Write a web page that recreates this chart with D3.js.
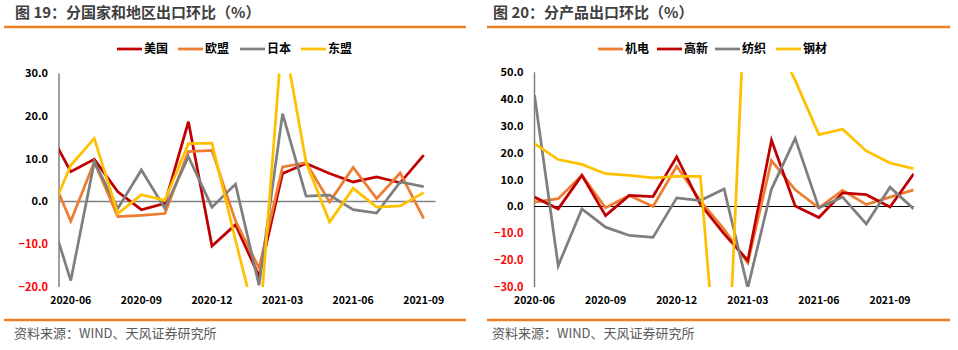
<!DOCTYPE html>
<html>
<head>
<meta charset="utf-8">
<script src="https://cdn.jsdelivr.net/npm/d3@7"></script>
<style>
  body { margin: 0; background: #fff; }
  text { font-family: "Noto Sans CJK SC", "Liberation Sans", sans-serif; }
</style>
</head>
<body>
<div id="chart"></div>
<script>
// ---- data: left panel (2020-05 .. 2021-09, first month only shows as clipped segment)
const monthsA = ["2020-05","2020-06","2020-07","2020-08","2020-09","2020-10","2020-11","2020-12",
                 "2021-01","2021-02","2021-03","2021-04","2021-05","2021-06","2021-07","2021-08","2021-09"];
const usa   = [17.2, 7.0, 9.9, 2.3, -1.9, -0.4, 18.7, -10.4, -5.4, -17.5, 6.6, 8.9, 6.6, 4.6, 5.8, 4.4, 10.9];
const eu    = [8.4, -4.6, 9.3, -3.5, -3.2, -2.8, 11.7, 12.0, -4.5, -15.6, 8.1, 9.1, -0.1, 8.0, 0.7, 6.7, -4.0];
const japan = [-0.9, -18.5, 9.3, -1.6, 7.4, -1.6, 10.5, -1.3, 4.1, -19.6, 20.6, 1.3, 1.5, -1.9, -2.7, 4.6, 3.5];
const asean = [-4.7, 8.5, 14.8, -2.8, 1.6, 0.3, 13.6, 13.7, -9.0, -31.0, 40.0, 9.2, -4.8, 3.1, -1.3, -1.0, 2.1];

// ---- data: right panel (2020-06 .. 2021-10)
const monthsB = ["2020-06","2020-07","2020-08","2020-09","2020-10","2020-11","2020-12","2021-01",
                 "2021-02","2021-03","2021-04","2021-05","2021-06","2021-07","2021-08","2021-09","2021-10"];
const electro = [1.6, 2.9, 11.6, -0.5, 4.1, 0.0, 15.0, 2.1, -8.5, -21.0, 17.1, 6.2, -0.5, 6.0, 0.7, 3.5, 6.2];
const hitech  = [3.5, -0.9, 11.6, -3.4, 4.1, 3.7, 18.5, 0.8, -10.2, -20.1, 24.7, 0.2, -4.1, 5.1, 4.4, -0.2, 12.2];
const textile = [41.5, -22.1, -0.9, -7.7, -10.8, -11.5, 3.2, 2.2, 6.5, -30.3, 6.5, 25.4, -0.5, 3.5, -6.5, 7.2, -0.9];
const steel   = [23.4, 17.5, 15.7, 12.2, 11.6, 10.7, 11.2, 11.2, -96.0, 102.0, 65.0, 47.0, 26.8, 28.8, 20.7, 16.2, 14.1];

const tickLabels = ["2020-06","2020-09","2020-12","2021-03","2021-06","2021-09"];
const ticksA = [-20, -10, 0, 10, 20, 30];
const ticksB = [-30, -20, -10, 0, 10, 20, 30, 40, 50];

const RED = "#C00000", ORANGE = "#ED7D31", GRAY = "#7F7F7F", YELLOW = "#FFC000";

const svg = d3.select("#chart").append("svg")
    .attr("width", 958)
    .attr("height", 350);

function drawPanel(cfg) {
  const g = svg.append("g");

  // title + orange rules + source note
  g.append("text")
    .attr("x", cfg.titleX).attr("y", 18)
    .attr("font-size", 15).attr("font-weight", "bold").attr("fill", "#404040")
    .text(cfg.title);
  g.append("line").attr("x1", cfg.ruleX0).attr("x2", cfg.ruleX1)
    .attr("y1", 27).attr("y2", 27).attr("stroke", "#EE7F22").attr("stroke-width", 2.5);
  g.append("line").attr("x1", cfg.ruleX0).attr("x2", cfg.ruleX1)
    .attr("y1", 320).attr("y2", 320).attr("stroke", "#EE7F22").attr("stroke-width", 2.5);
  g.append("text")
    .attr("x", cfg.titleX - 1).attr("y", 338)
    .attr("font-size", 13).attr("fill", "#595959")
    .text("资料来源：WIND、天风证券研究所");

  // scales
  const x = d3.scaleLinear().domain(cfg.xDomain).range(cfg.xRange);
  const y = d3.scaleLinear().domain(cfg.yDomain).range(cfg.yRange);

  const clipId = "clip-" + cfg.id;
  svg.append("clipPath").attr("id", clipId)
    .append("rect")
      .attr("x", cfg.xRange[0]).attr("y", cfg.yRange[1])
      .attr("width", cfg.xRange[1] - cfg.xRange[0])
      .attr("height", cfg.yRange[0] - cfg.yRange[1]);

  // y tick labels
  g.selectAll(".ylab")
    .data(cfg.yTicks)
    .join("text")
      .attr("x", cfg.xRange[0] - 11)
      .attr("y", d => y(d))
      .attr("dy", "0.35em")
      .attr("text-anchor", "end")
      .attr("font-family", "Liberation Sans, Arial, sans-serif")
      .attr("font-size", 11).attr("font-weight", "bold")
      .attr("fill", d => d < 0 ? "#FF0000" : "#000")
      .text(d => d3.format(".1f")(d));

  // x tick labels
  g.selectAll(".xlab")
    .data(tickLabels)
    .join("text")
      .attr("x", d => x(cfg.months.indexOf(d)))
      .attr("y", 304)
      .attr("text-anchor", "middle")
      .attr("font-family", "Liberation Sans, Arial, sans-serif")
      .attr("font-size", 10.5).attr("font-weight", "bold")
      .attr("fill", "#000")
      .text(d => d);

  // axes
  g.append("line")
    .attr("x1", cfg.xRange[0]).attr("x2", cfg.xRange[0])
    .attr("y1", cfg.yRange[1]).attr("y2", cfg.yRange[0])
    .attr("stroke", "#808080").attr("stroke-width", 1.5);
  g.append("line")
    .attr("x1", cfg.xRange[0]).attr("x2", cfg.xRange[1])
    .attr("y1", y(0)).attr("y2", y(0))
    .attr("stroke", cfg.zeroColor).attr("stroke-width", cfg.zeroWidth);

  // series lines (drawn in legend order, last on top)
  const line = d3.line()
    .x((d, i) => x(i))
    .y(d => y(d));
  g.append("g")
    .attr("clip-path", `url(#${clipId})`)
    .selectAll("path")
    .data(cfg.series)
    .join("path")
      .attr("d", d => line(d.values))
      .attr("fill", "none")
      .attr("stroke", d => d.color)
      .attr("stroke-width", 2.75)
      .attr("stroke-linejoin", "miter");

  // legend
  const leg = g.selectAll(".leg")
    .data(cfg.series)
    .join("g")
      .attr("transform", (d, i) => `translate(${cfg.legendX[i]},49)`);
  leg.append("line")
    .attr("x1", 0).attr("x2", 25)
    .attr("stroke", d => d.color).attr("stroke-width", 2.75);
  leg.append("text")
    .attr("x", 27).attr("dy", "0.35em")
    .attr("font-size", 12).attr("font-weight", "bold").attr("fill", "#000")
    .text(d => d.name);
}

drawPanel({
  id: "a",
  title: "图 19：分国家和地区出口环比（%）",
  titleX: 15, ruleX0: 4, ruleX1: 466,
  months: monthsA,
  xDomain: [0.5, 16.5], xRange: [59, 435.5],
  yDomain: [-20, 30], yRange: [287, 73.5],
  yTicks: ticksA,
  zeroColor: "#808080", zeroWidth: 1.5,
  legendX: [117, 178, 240, 301],
  series: [
    { name: "美国", values: usa,   color: RED },
    { name: "欧盟", values: eu,    color: ORANGE },
    { name: "日本", values: japan, color: GRAY },
    { name: "东盟", values: asean, color: YELLOW }
  ]
});

drawPanel({
  id: "b",
  title: "图 20：分产品出口环比（%）",
  titleX: 493, ruleX0: 487, ruleX1: 950,
  months: monthsB,
  xDomain: [0, 16], xRange: [534.5, 913.7],
  yDomain: [-30, 50], yRange: [287, 72.3],
  yTicks: ticksB,
  zeroColor: "#000", zeroWidth: 1.2,
  legendX: [598, 657, 715, 776],
  series: [
    { name: "机电", values: electro, color: ORANGE },
    { name: "高新", values: hitech,  color: RED },
    { name: "纺织", values: textile, color: GRAY },
    { name: "钢材", values: steel,   color: YELLOW }
  ]
});
</script>
</body>
</html>
